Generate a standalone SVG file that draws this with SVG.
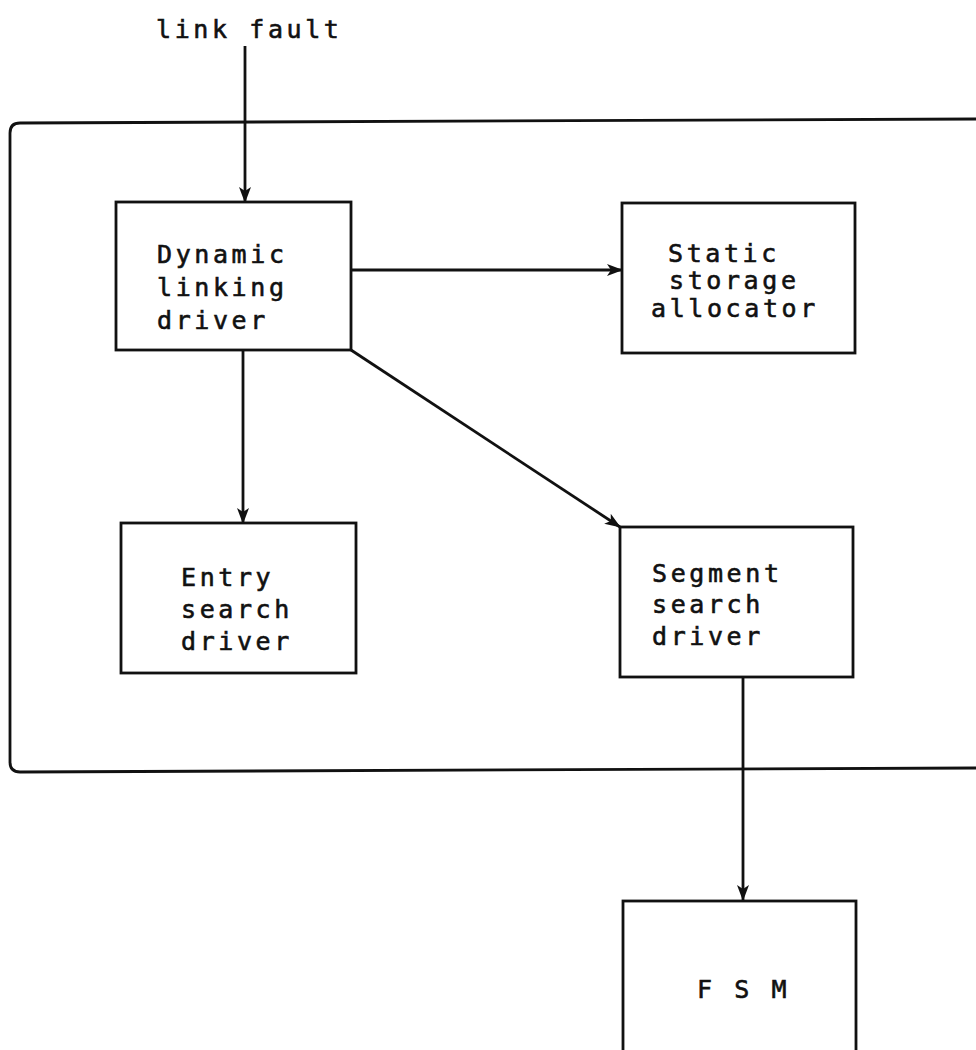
<svg xmlns="http://www.w3.org/2000/svg" width="976" height="1050" viewBox="0 0 976 1050">
<style>
.box{fill:none;stroke:#111;stroke-width:2.8}
.ln{fill:none;stroke:#111;stroke-width:2.8}
.t{font-family:"DejaVu Sans Mono","Liberation Mono",monospace;font-size:25px;letter-spacing:3.6px;fill:#111;stroke:#111;stroke-width:0.6}
</style>
<defs>
<marker id="ah" viewBox="0 0 16 12" refX="15" refY="6" markerWidth="16" markerHeight="12" markerUnits="userSpaceOnUse" orient="auto">
<path d="M0,0 L16,6 L0,12 L4,6 z" fill="#111"/>
</marker>
</defs>
<rect width="976" height="1050" fill="#fff"/>
<path class="ln" d="M976,119 L20,123 Q10,123 10,133 L10,762 Q10,772 20,772 L976,768"/>
<text class="t" x="156" y="38">link fault</text>
<g id="connectors">
<line class="ln" x1="245" y1="46" x2="245" y2="202" marker-end="url(#ah)"/>
<line class="ln" x1="351" y1="270" x2="622" y2="270" marker-end="url(#ah)"/>
<line class="ln" x1="243" y1="350" x2="243" y2="523" marker-end="url(#ah)"/>
<line class="ln" x1="351" y1="350" x2="620" y2="527" marker-end="url(#ah)"/>
<line class="ln" x1="743" y1="677" x2="743" y2="900" marker-end="url(#ah)"/>
</g>
<g id="dynamic">
<rect class="box" x="116" y="202" width="235" height="148"/>
<text class="t" x="157" y="263">Dynamic</text>
<text class="t" x="157" y="296">linking</text>
<text class="t" x="157" y="329">driver</text>
</g>
<g id="static">
<rect class="box" x="622" y="203" width="233" height="150"/>
<text class="t" x="668" y="262">Static</text>
<text class="t" x="669" y="289">storage</text>
<text class="t" x="651" y="317">allocator</text>
</g>
<g id="entry">
<rect class="box" x="121" y="523" width="235" height="150"/>
<text class="t" x="181" y="586">Entry</text>
<text class="t" x="181" y="618">search</text>
<text class="t" x="181" y="650">driver</text>
</g>
<g id="segment">
<rect class="box" x="620" y="527" width="233" height="150"/>
<text class="t" x="652" y="582">Segment</text>
<text class="t" x="652" y="613">search</text>
<text class="t" x="652" y="645">driver</text>
</g>
<g id="fsm">
<rect class="box" x="623" y="901" width="233" height="160"/>
<text class="t" x="697" y="998">F S M</text>
</g>
</svg>
